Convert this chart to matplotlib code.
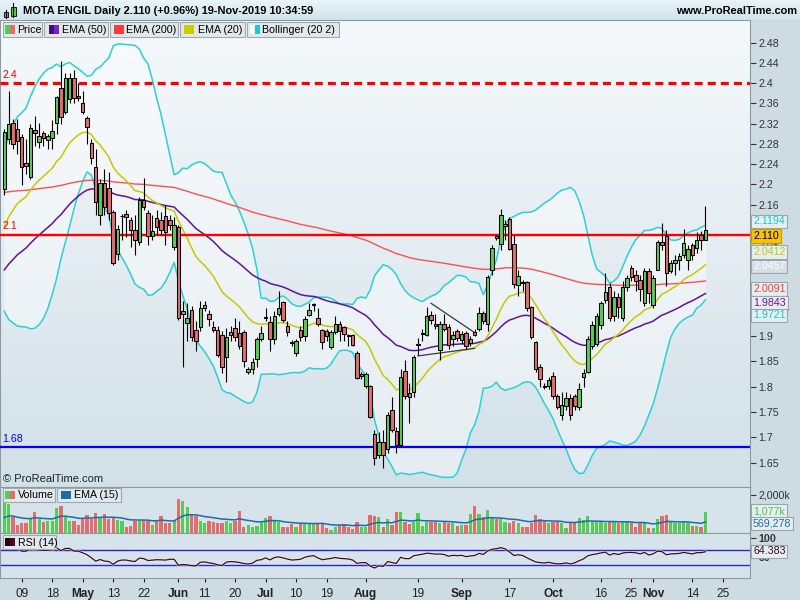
import numpy as np
import pandas as pd
import matplotlib
matplotlib.use("Agg")
import matplotlib.pyplot as plt
from matplotlib.colors import LinearSegmentedColormap
from matplotlib.patches import Rectangle

plt.rcParams['font.family'] = ['Liberation Sans', 'DejaVu Sans']

# ---------------------------------------------------------------- data
holidays = ['2019-04-19', '2019-04-22', '2019-05-01']
sessions = pd.bdate_range('2019-04-03', '2019-11-19').difference(pd.DatetimeIndex(holidays))
future_sessions = pd.bdate_range('2019-11-20', '2019-12-06')
calendar = sessions.append(future_sessions)

open_ = [2.190, 2.290, 2.321, 2.310, 2.294, 2.243, 2.214, 2.307, 2.284, 2.301, 2.288, 2.291, 2.321, 2.390, 2.344, 2.368, 2.410, 2.374,
         2.360, 2.331, 2.281, 2.235, 2.139, 2.202, 2.192, 2.146, 2.062, 2.137, 2.141, 2.130, 2.110, 2.087, 2.169, 2.143, 2.097, 2.134,
         2.130, 2.137, 2.130, 2.077, 2.116, 1.944, 1.926, 1.952, 1.912, 1.919, 1.955, 1.943, 1.919, 1.912, 1.902, 1.858, 1.902, 1.916,
         1.906, 1.908, 1.830, 1.835, 1.854, 1.894, 1.936, 1.929, 1.894, 1.943, 1.968, 1.920, 1.888, 1.866, 1.912, 1.900, 1.942, 1.962,
         1.935, 1.912, 1.911, 1.879, 1.909, 1.925, 1.918, 1.903, 1.902, 1.866, 1.822, 1.801, 1.802, 1.707, 1.665, 1.690, 1.677, 1.754,
         1.713, 1.685, 1.832, 1.787, 1.790, 1.882, 1.904, 1.902, 1.942, 1.925, 1.873, 1.924, 1.919, 1.894, 1.911, 1.892, 1.906, 1.886,
         1.908, 1.915, 1.945, 1.925, 2.031, 2.097, 2.082, 2.118, 2.131, 2.082, 2.001, 2.008, 2.008, 1.957, 1.889, 1.840, 1.802, 1.802,
         1.822, 1.782, 1.744, 1.762, 1.777, 1.781, 1.761, 1.820, 1.830, 1.881, 1.885, 1.922, 1.971, 1.998, 1.939, 1.978, 1.935, 1.998,
         2.034, 2.021, 2.011, 1.965, 2.029, 1.962, 2.031, 2.087, 2.097, 2.029, 2.045, 2.051, 2.061, 2.051, 2.080, 2.075, 2.100, 2.090]
high = [2.310, 2.385, 2.330, 2.330, 2.300, 2.290, 2.320, 2.335, 2.322, 2.305, 2.300, 2.327, 2.375, 2.443, 2.420, 2.420, 2.427, 2.400,
        2.385, 2.335, 2.290, 2.270, 2.210, 2.230, 2.225, 2.150, 2.120, 2.142, 2.150, 2.135, 2.140, 2.175, 2.213, 2.150, 2.140, 2.150,
        2.145, 2.160, 2.140, 2.135, 2.120, 1.970, 1.966, 1.960, 1.930, 1.970, 1.970, 1.952, 1.930, 1.920, 1.910, 1.917, 1.920, 1.935,
        1.930, 1.912, 1.840, 1.856, 1.898, 1.920, 1.955, 1.940, 1.950, 1.990, 1.970, 1.930, 1.893, 1.895, 1.920, 1.940, 1.965, 1.965,
        1.955, 1.915, 1.915, 1.912, 1.940, 1.930, 1.920, 1.905, 1.905, 1.870, 1.830, 1.830, 1.803, 1.715, 1.710, 1.715, 1.750, 1.780,
        1.720, 1.835, 1.853, 1.807, 1.862, 1.897, 1.915, 1.958, 1.950, 1.944, 1.930, 1.944, 1.925, 1.910, 1.915, 1.910, 1.910, 1.900,
        1.915, 1.958, 1.950, 2.020, 2.080, 2.100, 2.151, 2.130, 2.135, 2.100, 2.030, 2.012, 2.010, 1.960, 1.890, 1.845, 1.808, 1.820,
        1.830, 1.785, 1.790, 1.790, 1.785, 1.785, 1.807, 1.835, 1.900, 1.930, 1.945, 1.970, 2.024, 2.005, 1.990, 1.985, 2.010, 2.020,
        2.040, 2.030, 2.020, 2.035, 2.035, 2.020, 2.090, 2.123, 2.110, 2.050, 2.060, 2.065, 2.111, 2.080, 2.085, 2.105, 2.108, 2.157]
low = [2.180, 2.280, 2.270, 2.260, 2.199, 2.220, 2.210, 2.275, 2.272, 2.275, 2.270, 2.269, 2.300, 2.320, 2.340, 2.360, 2.360, 2.365,
       2.340, 2.280, 2.240, 2.139, 2.120, 2.140, 2.130, 2.040, 2.050, 2.090, 2.096, 2.077, 2.060, 2.080, 2.150, 2.080, 2.090, 2.100,
       2.100, 2.080, 2.110, 2.070, 1.932, 1.840, 1.890, 1.890, 1.870, 1.910, 1.950, 1.920, 1.908, 1.858, 1.828, 1.810, 1.890, 1.890,
       1.875, 1.840, 1.826, 1.826, 1.840, 1.890, 1.930, 1.870, 1.885, 1.940, 1.928, 1.900, 1.880, 1.860, 1.890, 1.890, 1.940, 1.950,
       1.920, 1.875, 1.890, 1.875, 1.905, 1.890, 1.890, 1.880, 1.880, 1.815, 1.815, 1.798, 1.738, 1.646, 1.660, 1.640, 1.670, 1.710,
       1.670, 1.680, 1.775, 1.728, 1.780, 1.862, 1.890, 1.900, 1.925, 1.915, 1.853, 1.910, 1.875, 1.880, 1.890, 1.885, 1.875, 1.880,
       1.900, 1.910, 1.925, 1.910, 2.020, 2.090, 2.070, 2.090, 2.070, 1.995, 1.980, 1.990, 1.950, 1.895, 1.830, 1.800, 1.795, 1.795,
       1.775, 1.757, 1.735, 1.755, 1.734, 1.755, 1.755, 1.800, 1.828, 1.875, 1.880, 1.915, 1.965, 1.930, 1.930, 1.935, 1.930, 1.990,
       2.010, 1.990, 1.970, 1.960, 1.965, 1.955, 2.030, 2.070, 2.000, 2.025, 2.020, 2.030, 2.055, 2.030, 2.050, 2.065, 2.070, 2.090]
close = [2.303, 2.320, 2.280, 2.285, 2.235, 2.237, 2.312, 2.301, 2.296, 2.291, 2.296, 2.306, 2.373, 2.334, 2.410, 2.410, 2.370, 2.370,
         2.344, 2.313, 2.253, 2.166, 2.202, 2.156, 2.143, 2.044, 2.111, 2.138, 2.136, 2.110, 2.090, 2.169, 2.156, 2.097, 2.107, 2.116,
         2.110, 2.106, 2.120, 2.120, 1.935, 1.950, 1.936, 1.899, 1.891, 1.955, 1.962, 1.933, 1.912, 1.863, 1.840, 1.899, 1.909, 1.899,
         1.881, 1.850, 1.835, 1.848, 1.894, 1.906, 1.938, 1.894, 1.939, 1.955, 1.932, 1.909, 1.886, 1.891, 1.898, 1.933, 1.952, 1.964,
         1.925, 1.889, 1.900, 1.909, 1.925, 1.911, 1.905, 1.900, 1.883, 1.817, 1.826, 1.826, 1.740, 1.659, 1.690, 1.665, 1.744, 1.714,
         1.685, 1.819, 1.782, 1.779, 1.858, 1.884, 1.906, 1.940, 1.932, 1.920, 1.925, 1.915, 1.882, 1.902, 1.896, 1.904, 1.880, 1.894,
         1.902, 1.945, 1.930, 2.016, 2.074, 2.094, 2.139, 2.121, 2.072, 2.003, 2.019, 2.006, 1.955, 1.899, 1.835, 1.815, 1.800, 1.813,
         1.782, 1.761, 1.764, 1.777, 1.744, 1.762, 1.795, 1.828, 1.894, 1.922, 1.940, 1.966, 1.988, 1.935, 1.978, 1.958, 1.998, 2.015,
         2.016, 2.010, 1.993, 2.029, 1.986, 2.014, 2.087, 2.080, 2.024, 2.045, 2.051, 2.059, 2.085, 2.072, 2.061, 2.090, 2.090, 2.110]
volume_k = [1550, 1500, 850, 410, 495, 530, 710, 1100, 710, 580, 640, 640, 1310, 1410, 850, 620, 620, 410, 725, 955, 725, 1025,
            815, 990, 710, 850, 670, 640, 320, 370, 640, 640, 640, 640, 410, 640, 885, 495, 495, 640, 1770, 1700, 1380, 955, 900,
            640, 495, 640, 550, 495, 495, 640, 530, 600, 1150, 320, 390, 320, 370, 580, 800, 885, 640, 580, 280, 320, 440, 320,
            440, 440, 440, 440, 530, 530, 230, 140, 320, 390, 440, 320, 180, 580, 320, 320, 955, 900, 810, 320, 710, 410, 1120,
            1110, 580, 460, 580, 1060, 370, 580, 580, 580, 495, 580, 495, 495, 370, 410, 410, 990, 1410, 990, 850, 1200, 810, 710,
            710, 580, 495, 640, 495, 320, 320, 495, 955, 710, 640, 495, 580, 580, 495, 230, 495, 495, 800, 670, 900, 550, 580,
            580, 495, 580, 580, 495, 580, 580, 495, 320, 580, 495, 230, 230, 710, 885, 955, 580, 495, 495, 640, 495, 370, 370,
            320, 1077]

# closes of the sessions just before the first drawn candle (indicator warm-up)
warmup_close = [2.14, 2.16, 2.18, 2.17, 2.15, 2.12, 2.10, 2.07, 2.05, 2.02, 2.00, 1.99, 2.00, 2.03, 2.06, 2.09, 2.13, 2.17, 2.20]
ema_start = {20: 2.116, 50: 2.031, 200: 2.184}
volume_ema_start = 800

level_dashed, level_red, level_blue = 2.4, 2.1, 1.68
trendlines = [(('2019-08-22', 1.965), ('2019-09-05', 1.907)),
              (('2019-08-19', 1.861), ('2019-09-05', 1.876))]

tick_dates = ['2019-04-09', '2019-04-18', '2019-05-02', '2019-05-13', '2019-05-22', '2019-06-03', '2019-06-11',
              '2019-06-20', '2019-07-01', '2019-07-10', '2019-07-19', '2019-08-01', '2019-08-19', '2019-09-02',
              '2019-09-17', '2019-10-01', '2019-10-16', '2019-10-25', '2019-11-01', '2019-11-14', '2019-11-25']
tick_labels = ['09', '18', 'May', '13', '22', 'Jun', '11', '20', 'Jul', '10', '19', 'Aug', '19', 'Sep', '17',
               'Oct', '16', '25', 'Nov', '14', '25']
price_ticks = [2.48, 2.44, 2.40, 2.36, 2.32, 2.28, 2.24, 2.20, 2.16, 2.08, 1.90, 1.85, 1.80, 1.75, 1.70, 1.65]

# ---------------------------------------------------------------- indicators
o, h, l, c = map(np.asarray, (open_, high, low, close))
vol = np.asarray(volume_k, float)
n = len(c)
x = np.arange(n)
full_close = np.r_[warmup_close, c]


def ema(values, span, start):
    a = 2.0 / (span + 1)
    out = np.empty(len(values))
    prev = start
    for i, v in enumerate(values):
        prev = a * v + (1 - a) * prev if i else start
        out[i] = prev
    return out


ema20 = ema(c, 20, ema_start[20])
ema50 = ema(c, 50, ema_start[50])
ema200 = ema(c, 200, ema_start[200])
vol_ema = ema(vol, 15, volume_ema_start)

s = pd.Series(full_close)
mid = s.rolling(20).mean().to_numpy()[-n:]
sd = s.rolling(20).std(ddof=0).to_numpy()[-n:]
bb_up, bb_lo = mid + 2 * sd, mid - 2 * sd

d = np.diff(full_close)
avg_g = pd.Series(np.clip(d, 0, None)).ewm(alpha=1 / 14, adjust=False).mean().to_numpy()
avg_l = pd.Series(np.clip(-d, 0, None)).ewm(alpha=1 / 14, adjust=False).mean().to_numpy()
rsi = (100 - 100 / (1 + avg_g / avg_l))[-n:]

# ---------------------------------------------------------------- layout
W, H = 800, 600
fig = plt.figure(figsize=(W / 100, H / 100), dpi=100, facecolor='#cddbe3')


def frac(x0, y0, x1, y1):
    return [x0 / W, 1 - y1 / H, (x1 - x0) / W, (y1 - y0) / H]


def px_rect(x0, y0, x1, y1, **kw):
    fig.add_artist(Rectangle((x0 / W, 1 - y1 / H), (x1 - x0) / W, (y1 - y0) / H,
                             transform=fig.transFigure, **kw))


def px_text(xp, yp, s, **kw):
    fig.text(xp / W, 1 - yp / H, s, **kw)


UP, DOWN = '#55cd55', '#e46c6c'
EDGE = '#8c9ba3'
XL = (-0.987, 171.23)

# header
axh = fig.add_axes(frac(0, 0, 800, 20))
axh.imshow(np.linspace(0, 1, 64).reshape(-1, 1), aspect='auto', extent=[0, 1, 0, 1],
           cmap=LinearSegmentedColormap.from_list('hdr', ['#cfe4ec', '#e9f5f9']), origin='lower')
axh.set_axis_off()
px_text(23, 10.5, 'MOTA ENGIL Daily 2.110 (+0.96%) 19-Nov-2019 10:34:59', fontsize=7.9,
        fontweight='bold', va='center', ha='left')
px_text(797, 10.5, 'www.ProRealTime.com', fontsize=7.9, fontweight='bold', va='center', ha='right')
# small candle icon
fig.add_artist(plt.Line2D([5.7 / W, 5.7 / W], [1 - 18 / H, 1 - 10 / H], transform=fig.transFigure, color='k', lw=0.8))
px_rect(3.5, 11.5, 8, 16.5, facecolor=DOWN, edgecolor='k', lw=0.6)
fig.add_artist(plt.Line2D([13.3 / W, 13.3 / W], [1 - 17 / H, 1 - 3 / H], transform=fig.transFigure, color='k', lw=0.8))
px_rect(11, 7, 15.5, 16, facecolor=UP, edgecolor='k', lw=0.6)

# ---------------------------------------------------------------- price panel
axp = fig.add_axes(frac(0, 20, 750, 487))
ylo, yhi = 1.6019, 2.5249
axp.set_xlim(*XL)
axp.set_ylim(ylo, yhi)
axp.imshow(np.linspace(0, 1, 256).reshape(-1, 1), aspect='auto', extent=[XL[0], XL[1], ylo, yhi],
           cmap=LinearSegmentedColormap.from_list('bg', ['#d2e0e8', '#f5f9fb']), origin='lower', zorder=0)
axp.fill_between(x, bb_lo, bb_up, color='white', alpha=0.42, lw=0, zorder=1)
axp.plot(x, bb_up, color='#2ccfd6', lw=1.1, zorder=2)
axp.plot(x, bb_lo, color='#2ccfd6', lw=1.1, zorder=2)
axp.plot(x, ema200, color='#ff5050', lw=1.0, zorder=2)
axp.plot(x, ema50, color='#5c14a0', lw=1.1, zorder=2)
axp.plot(x, ema20, color='#c8c800', lw=1.1, zorder=2)

axp.axhline(level_dashed, color='#ff0000', lw=2.3, ls=(0, (2.5, 1.6)), zorder=3)
axp.axhline(level_red, color='#ff0000', lw=1.7, zorder=3)
axp.axhline(level_blue, color='#0000ff', lw=1.6, zorder=3)
for lv, col in ((level_dashed, '#ff0000'), (level_red, '#ff0000'), (level_blue, '#0000ff')):
    axp.text(XL[0] + 0.5, lv + 0.007, f'{lv:g}', color=col, fontsize=7.7, va='bottom', ha='left', zorder=4)

for (d0, p0), (d1, p1) in trendlines:
    i0, i1 = calendar.get_indexer(pd.to_datetime([d0, d1]))
    axp.plot([i0, i1], [p0, p1], color='#3a3a3a', lw=0.9, zorder=3)

up = c >= o
axp.vlines(x, l, h, color='black', lw=0.8, zorder=4)
body = np.maximum(np.abs(c - o), 0.0006)
axp.bar(x, body, bottom=np.minimum(o, c), width=0.8, color=np.where(up, UP, DOWN),
        edgecolor='black', linewidth=0.75, zorder=5)

axp.yaxis.tick_right()
axp.set_yticks(price_ticks)
axp.set_yticklabels([f'{t:g}' for t in price_ticks])
axp.tick_params(axis='y', direction='out', length=4, width=0.8, pad=2, labelsize=7.7, colors='#333333')
axp.tick_params(axis='x', bottom=False, labelbottom=False)
for sp in axp.spines.values():
    sp.set_color(EDGE)
axp.text(XL[0] + 0.6, 1.608, '© ProRealTime.com', fontsize=8, va='bottom', ha='left', color='#222222', zorder=6)

# ---------------------------------------------------------------- volume panel
axv = fig.add_axes(frac(0, 487, 750, 533))
axv.set_facecolor('#d6e3ea')
axv.set_xlim(*XL)
axv.set_ylim(-16, 2420)
axv.bar(x, vol, width=0.75, color=np.where(up, UP, DOWN), lw=0, zorder=2)
axv.plot(x, vol_ema, color='#1b6ea3', lw=1.1, zorder=3)
axv.yaxis.tick_right()
axv.set_yticks([2000])
axv.set_yticklabels(['2,000k'])
axv.tick_params(axis='y', direction='out', length=4, width=0.8, pad=2, labelsize=7.7, colors='#333333')
axv.tick_params(axis='x', bottom=False, labelbottom=False)
for sp in axv.spines.values():
    sp.set_color(EDGE)

# ---------------------------------------------------------------- RSI panel
axr = fig.add_axes(frac(0, 533, 750, 578))
axr.set_facecolor('#d6e3ea')
axr.set_xlim(*XL)
axr.set_ylim(-4, 113.3)
axr.axhline(70, color='#2424d8', lw=1.0, zorder=2)
axr.axhline(30, color='#2424d8', lw=1.0, zorder=2)
axr.plot(x, rsi, color='#f2f2f2', lw=2.0, alpha=0.6, zorder=3)
axr.plot(x, rsi, color='#3d0c1c', lw=0.9, zorder=4)
axr.yaxis.tick_right()
axr.set_yticks([100, 50])
axr.set_yticklabels(['100', '50'], fontweight='bold')
axr.tick_params(axis='y', direction='out', length=4, width=0.8, pad=2, labelsize=7.7, colors='#333333')
tick_pos = calendar.get_indexer(pd.to_datetime(tick_dates))
axr.set_xticks(tick_pos)
axr.set_xticklabels(tick_labels)
for lab in axr.get_xticklabels():
    if lab.get_text().isalpha():
        lab.set_fontweight('bold')
axr.tick_params(axis='x', direction='out', length=3, width=0.8, pad=4, labelsize=8.6, colors='#222222')
for sp in axr.spines.values():
    sp.set_color(EDGE)

# ---------------------------------------------------------------- legends
def legend_box(x0, x1, y0, y1, swatches, label, tx):
    px_rect(x0, y0, x1, y1, facecolor='#e2e9ec', edgecolor='#9ea9af', lw=0.8, zorder=10)
    for sx0, sx1, col in swatches:
        px_rect(sx0, y0 + 3, sx1, y1 - 3, facecolor=col, edgecolor='none', zorder=11)
    px_text(tx, (y0 + y1) / 2 + 0.5, label, fontsize=7.7, va='center', ha='left', zorder=12)


legend_box(3, 42, 22, 37, [(5, 10, UP), (10, 15, DOWN)], 'Price', 17.5)
legend_box(44, 108, 22, 37, [(49, 54, '#3e0a8e'), (54, 59, '#7a22c2')], 'EMA (50)', 61.5)
legend_box(110, 178, 22, 37, [(114, 124, '#ff3a3a')], 'EMA (200)', 126.5)
legend_box(180, 245, 22, 37, [(184, 194, '#cccc00')], 'EMA (20)', 197.5)
legend_box(247, 339, 22, 37, [(250, 255, '#ffffff'), (255, 260, '#1fc8d0')], 'Bollinger (20 2)', 262.5)
legend_box(3, 55, 488, 502, [(5, 10, UP), (10, 15, DOWN)], 'Volume', 18)
legend_box(57, 121, 488, 502, [(61, 71, '#1b6ea3')], 'EMA (15)', 74)
legend_box(3, 56, 535, 549, [(5, 10, '#2a0010'), (10, 15, '#4a0a20')], 'RSI (14)', 18)

# ---------------------------------------------------------------- value tags on the scales
def tag(yp, s, fg, bg, ec='#9aa6ac'):
    px_text(753, yp, s, fontsize=7.7, color=fg, va='center', ha='left', zorder=13,
            bbox=dict(boxstyle='square,pad=0.18', fc=bg, ec=ec, lw=0.8))


tag(221.5, f'{bb_up[-1]:.4f}', '#18c8d0', '#e6eef1')
tag(236, f'{c[-1]:.3f}', '#000000', '#f6c400', ec='#c89a00')
tag(252, f'{ema20[-1]:.4f}', '#c8c800', '#e6eef1')
tag(266.5, f'{mid[-1]:.4f}', '#ffffff', '#d6e0e5')
tag(289, f'{ema200[-1]:.4f}', '#ff3a3a', '#e6eef1')
tag(303, f'{ema50[-1]:.4f}', '#6a14b0', '#e6eef1')
tag(315.5, f'{bb_lo[-1]:.4f}', '#18c8d0', '#e6eef1')
tag(511, f'{vol[-1]:,.0f}k', '#44c844', '#e6eef1')
tag(523.5, f'{vol_ema[-1] * 1000:,.0f}', '#1b6ea3', '#e6eef1')
tag(551.5, f'{rsi[-1]:.3f}', '#3d0c1c', '#e6eef1')

fig.savefig('out.png', dpi=100, facecolor=fig.get_facecolor())
